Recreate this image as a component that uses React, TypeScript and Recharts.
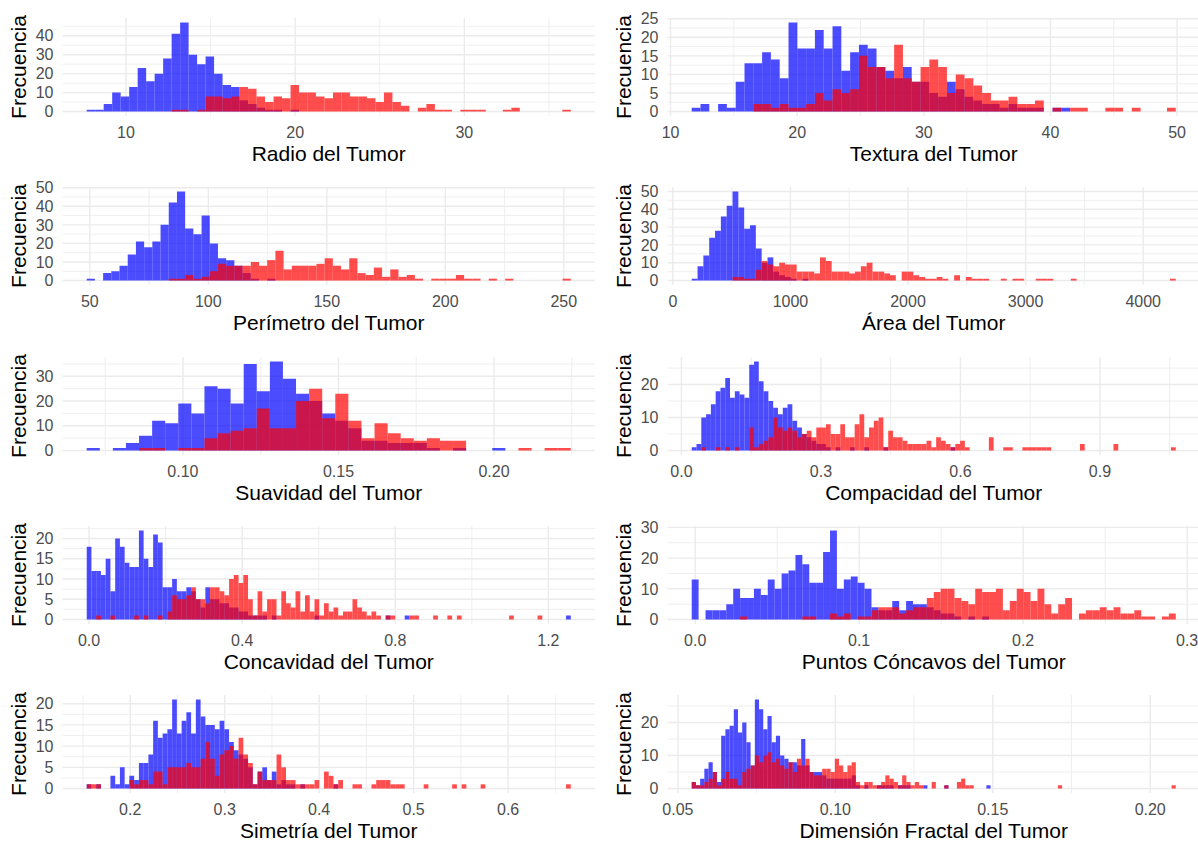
import React from 'react';
import { ComposedChart, Bar, XAxis, YAxis, CartesianGrid } from 'recharts';

// ---------- Radio ----------
const radioInicio = 7.93;
const radioAncho = 0.502;
const radioBenigno = [1,1,4,10,8,13,23,16,20,28, 41,47,30,25,29,20,14,13,6,4, 2,1,1,0,1,0,0,0,0,0, 0,0,0,0,0,0,0,0,0,0, 0,0,0,0,0,0,0,0,0,0, 0,0,0,0,0,0,0];
const radioMaligno = [0,0,0,0,0,0,0,0,0,0, 1,1,0,1,8,8,7,8,13,12, 8,5,8,7,14,10,10,8,7,10, 10,8,8,7,5,10,5,3,0,2, 4,1,1,0,1,1,1,0,0,1, 2,0,0,0,0,0,1];
const radioTicks = [10, 20, 30];
const radioMenores = [15, 25, 35];

// ---------- Textura ----------
const texturaInicio = 12.02;
const texturaAncho = 0.695;
const texturaBenigno = [1,2,0,2,1,8,13,13,16,14, 9,24,17,17,22,17,23,11,16,18, 17,12,11,9,12,8,8,5,4,8, 6,4,3,2,2,1,2,1,1,1, 0,1,1,0,0,0,0,0,0,0, 0,0,0,0,0];
const texturaMaligno = [0,0,0,0,0,0,0,2,2,1, 2,1,1,2,5,3,6,5,6,15, 12,12,9,18,9,8,12,14,12,5, 10,9,7,5,3,3,4,2,2,3, 0,1,0,1,1,0,0,1,1,0, 1,0,0,0,1];
const texturaTicks = [10, 20, 30, 40, 50];
const texturaMenores = [15, 25, 35, 45];

// ---------- Perimetro ----------
const perimetroInicio = 50.41;
const perimetroAncho = 3.462;
const perimetroBenigno = [1,0,4,5,8,14,21,18,21,30, 42,48,28,25,35,20,12,11,8,4, 1,0,1,0,0,0,0,0,0,0, 0,0,0,0,0,0,0,0,0,0, 0,0,0,0,0,0,0,0,0,0, 0,0,0,0,0,0,0,0,0];
const perimetroMaligno = [0,0,0,0,0,0,0,0,0,0, 1,1,3,1,2,5,9,8,8,8, 10,8,11,16,6,8,8,8,9,12, 8,6,12,4,3,7,2,6,2,3, 1,0,1,1,1,3,1,1,0,1, 0,1,0,0,0,0,0,0,1];
const perimetroTicks = [50, 100, 150, 200, 250];
const perimetroMenores = [75, 125, 175, 225];

// ---------- Area ----------
const areaInicio = 185.2;
const areaAncho = 49.6;
const areaBenigno = [1,8,14,24,28,36,42,50,41,29, 31,18,10,13,5,3,2,1,0,1, 0,0,0,0,0,0,0,0,0,0, 0,0,0,0,0,0,0,0,0,0, 0,0,0,0,0,0,0,0,0,0, 0,0,0,0,0,0,0,0,0,0, 0,0,0,0,0,0,0,0,0,0, 0,0,0,0,0,0,0,0,0,0, 0,0,0];
const areaMaligno = [0,0,0,0,0,0,0,2,2,1, 1,6,11,9,8,10,9,9,5,5, 5,4,13,11,5,5,5,4,5,8, 10,5,5,4,3,0,5,5,3,2, 1,1,2,1,0,3,0,2,1,1, 1,0,0,1,0,1,1,0,0,1, 1,1,0,0,0,1,0,0,0,0, 0,0,0,0,0,0,0,0,0,0, 0,0,1];
const areaTicks = [0, 1000, 2000, 3000, 4000];
const areaMenores = [500, 1500, 2500, 3500];

// ---------- Suavidad ----------
const suavidadInicio = 0.07117;
const suavidadAncho = 0.004206;
const suavidadBenigno = [1,0,1,3,6,12,11,19,15,26, 25,19,35,24,36,29,23,20,15,12, 9,4,4,3,3,3,1,0,1,0, 0,1,0,0,0,0,0];
const suavidadMaligno = [0,0,0,0,1,1,0,1,1,5, 7,8,9,17,9,9,20,25,13,23, 12,5,11,7,5,4,5,4,4,0, 0,0,0,1,0,1,1];
const suavidadTicks = [0.1, 0.15, 0.2];
const suavidadMenores = [0.075, 0.125, 0.175, 0.225];

// ---------- Compacidad ----------
const compacidadInicio = 0.02729;
const compacidadAncho = 0.010307;
const compacidadBenigno = [
  1,2,10,11,14,18,19,22,16,18, 17,16,26,27,21,18,15,13,11,13,
  14,9,7,5,4,3,2,2,1,0, 1,0,0,1,0,0,1,0,0,0,
  1,0,0,0,0,0,0,0,0,0, 0,0,0,0,1,0,0,0,0,0,
  0,0,0,0,0,0,0,0,0,0, 0,0,0,0,0,0,0,0,0,0,
  0,0,0,0,0,0,0,0,0,0, 0,0,0,0,0,0,0,0,0,0,
  0];
const compacidadMaligno = [
  0,0,1,0,0,1,0,1,0,1, 0,0,7,1,2,3,4,10,7,6,
  7,6,4,5,6,4,7,7,8,5, 5,8,4,4,8,11,4,7,9,10,
  1,6,4,4,3,2,2,2,2,3, 1,4,3,2,1,2,3,1,0,0,
  0,0,4,0,0,1,1,0,0,1, 1,1,1,1,1,0,0,0,0,0,
  0,2,0,0,0,0,0,0,2,0, 0,0,0,0,0,0,0,0,0,0,
  1];
const compacidadTicks = [0, 0.3, 0.6, 0.9];
const compacidadMenores = [0.15, 0.45, 0.75, 1.05];

// ---------- Concavidad ----------
const concavidadInicio = 0;
const concavidadAncho = 0.0124;
const concavidadBenigno = [
  18,12,12,11,15,7,20,18,14,13, 13,22,15,13,21,19,8,8,10,7,
  7,8,7,5,3,8,5,5,4,4, 3,3,2,2,1,1,1,1,0,1,
  0,0,0,0,0,0,0,0,1,0, 0,0,0,0,0,0,0,0,0,0,
  0,0,0,1,0,0,0,1,0,0, 0,0,0,0,0,0,0,0,0,0,
  0,0,0,0,0,0,0,0,0,0, 0,0,0,0,0,0,0,0,0,0,
  0,1];
const concavidadMaligno = [
  0,0,1,0,0,1,0,0,0,0, 1,0,1,0,0,1,0,2,6,5,
  5,6,8,5,5,4,8,8,7,6, 10,11,9,11,5,1,7,2,5,5,
  1,7,4,3,7,2,6,2,5,1, 4,2,3,1,2,2,5,3,2,1,
  2,1,0,1,1,0,0,0,1,1, 0,0,0,1,0,0,1,0,1,0,
  0,0,0,0,0,0,0,0,0,1, 0,0,0,0,0,1,0,0,0,0,
  0,0];
const concavidadTicks = [0, 0.4, 0.8, 1.2];
const concavidadMenores = [0.2, 0.6, 1.0];

// ---------- Puntos concavos ----------
const puntosInicio = 0;
const puntosAncho = 0.004217;
const puntosBenigno = [
  13,0,3,3,3,5,10,7,7,10, 8,13,10,15,16,21,18,12,12,22,
  29,10,13,14,12,10,4,3,3,6, 3,6,5,5,4,3,2,2,1,0,
  1,0,1,0,0,0,0,0,0,0, 0,0,0,0,0,0,0,0,0,0,
  0,0,0,0,0,0,0,0,0,0];
const puntosMaligno = [
  0,0,0,0,0,0,0,1,0,0, 0,0,0,0,0,0,1,1,0,0,
  2,1,2,0,1,1,3,4,4,4, 2,3,4,4,7,9,10,10,7,6,
  5,10,9,9,10,3,6,10,9,6, 10,5,2,5,7,0,2,3,3,4,
  3,4,2,2,3,1,1,0,1,2];
const puntosTicks = [0, 0.1, 0.2, 0.3];
const puntosMenores = [0.05, 0.15, 0.25];

// ---------- Simetria ----------
const simetriaInicio = 0.1565;
const simetriaAncho = 0.005023;
const simetriaBenigno = [
  1,0,1,0,0,3,1,5,1,3, 2,6,6,8,16,12,13,14,21,13,
  16,18,13,21,17,15,15,14,16,14, 11,9,8,7,5,1,4,5,2,4,
  1,2,1,1,0,1,0,0,0,0, 0,0,1,0,0,0,0,0,0,0,
  0,0,0,0,0,0,0,0,0,0, 0,0,0,0,0,0,0,0,0,0,
  0,0,0,0,0,0,0,0,0,0, 0,0,0,0,0,0,0,0,0,0,
  0,0];
const simetriaMaligno = [
  1,1,1,0,0,0,0,0,0,2, 1,2,2,1,4,4,1,5,5,5,
  5,6,5,5,7,11,7,3,8,9, 10,7,12,8,6,1,4,2,2,2,
  8,5,2,2,1,1,1,1,2,0, 4,3,1,2,0,0,1,1,0,0,
  1,2,2,2,1,1,1,0,0,0, 0,1,0,0,0,0,0,1,0,1,
  0,0,0,1,0,0,0,0,0,0, 0,0,0,0,0,0,0,0,0,0,
  0,1];
const simetriaTicks = [0.2, 0.3, 0.4, 0.5, 0.6];
const simetriaMenores = [0.15, 0.25, 0.35, 0.45, 0.55, 0.65];

// ---------- Dimension fractal ----------
const fractalInicio = 0.05504;
const fractalAncho = 0.001337;
const fractalBenigno = [
  2,1,3,6,8,5,2,16,18,19, 24,17,20,14,7,27,24,18,22,14,
  16,10,9,8,8,7,15,7,5,5, 5,4,3,3,3,3,3,3,4,1,
  0,1,0,0,1,1,1,1,0,1, 1,1,0,0,0,1,0,0,0,0,
  1,0,0,0,0,0,0,0,0,0, 1,0,0,0,0,0,0,0,0,0,
  0,0,0,0,0,0,0,0,0,0, 0,0,0,0,0,0,0,0,0,0,
  0,0,0,0,0,0,0,0,0,0, 0,0,0,0,0];
const fractalMaligno = [
  2,1,1,2,3,5,1,3,5,3, 3,1,5,6,7,10,8,10,11,8,
  9,7,6,8,5,9,7,9,5,4, 4,6,6,5,9,7,5,7,8,2,
  1,2,2,1,1,2,4,3,2,1, 4,2,1,2,1,0,0,2,0,0,
  1,0,0,2,3,1,1,0,0,0, 0,0,0,0,0,0,0,0,0,0,
  0,0,0,0,0,0,0,1,0,0, 0,0,0,0,0,0,0,0,0,0,
  0,0,0,0,0,0,0,0,0,0, 0,0,0,0,1];
const fractalTicks = [0.05, 0.1, 0.15, 0.2];
const fractalMenores = [0.075, 0.125, 0.175];

const FONT = '"Liberation Sans", Arial, Helvetica, sans-serif';
const CHART_W = 600;
const CHART_H = 169;
const Y_W = 62.5;
const M_TOP = 18;
const M_RIGHT = 5;
const X_H = 53;
const COL_STEP = 605;
const ROW_STEP = 169.25;
const TITLE_SIZE = 21;
const TICK_SIZE = 16;

type Panel = {
  title: string;
  start: number;
  width: number;
  benign: number[];
  malignant: number[];
  xTicks: number[];
  xMinor: number[];
  digits: number;
  yTicks: number[];
  yMinor: number[];
};

const panels: Panel[] = [
  { title: 'Radio del Tumor', start: radioInicio, width: radioAncho, benign: radioBenigno, malignant: radioMaligno, xTicks: radioTicks, xMinor: radioMenores, digits: 0, yTicks: [0, 10, 20, 30, 40], yMinor: [5, 15, 25, 35, 45] },
  { title: 'Textura del Tumor', start: texturaInicio, width: texturaAncho, benign: texturaBenigno, malignant: texturaMaligno, xTicks: texturaTicks, xMinor: texturaMenores, digits: 0, yTicks: [0, 5, 10, 15, 20, 25], yMinor: [2.5, 7.5, 12.5, 17.5, 22.5] },
  { title: 'Perímetro del Tumor', start: perimetroInicio, width: perimetroAncho, benign: perimetroBenigno, malignant: perimetroMaligno, xTicks: perimetroTicks, xMinor: perimetroMenores, digits: 0, yTicks: [0, 10, 20, 30, 40, 50], yMinor: [5, 15, 25, 35, 45] },
  { title: 'Área del Tumor', start: areaInicio, width: areaAncho, benign: areaBenigno, malignant: areaMaligno, xTicks: areaTicks, xMinor: areaMenores, digits: 0, yTicks: [0, 10, 20, 30, 40, 50], yMinor: [5, 15, 25, 35, 45] },
  { title: 'Suavidad del Tumor', start: suavidadInicio, width: suavidadAncho, benign: suavidadBenigno, malignant: suavidadMaligno, xTicks: suavidadTicks, xMinor: suavidadMenores, digits: 2, yTicks: [0, 10, 20, 30], yMinor: [5, 15, 25, 35] },
  { title: 'Compacidad del Tumor', start: compacidadInicio, width: compacidadAncho, benign: compacidadBenigno, malignant: compacidadMaligno, xTicks: compacidadTicks, xMinor: compacidadMenores, digits: 1, yTicks: [0, 10, 20], yMinor: [5, 15, 25] },
  { title: 'Concavidad del Tumor', start: concavidadInicio, width: concavidadAncho, benign: concavidadBenigno, malignant: concavidadMaligno, xTicks: concavidadTicks, xMinor: concavidadMenores, digits: 1, yTicks: [0, 5, 10, 15, 20], yMinor: [2.5, 7.5, 12.5, 17.5, 22.5] },
  { title: 'Puntos Cóncavos del Tumor', start: puntosInicio, width: puntosAncho, benign: puntosBenigno, malignant: puntosMaligno, xTicks: puntosTicks, xMinor: puntosMenores, digits: 1, yTicks: [0, 10, 20, 30], yMinor: [5, 15, 25] },
  { title: 'Simetría del Tumor', start: simetriaInicio, width: simetriaAncho, benign: simetriaBenigno, malignant: simetriaMaligno, xTicks: simetriaTicks, xMinor: simetriaMenores, digits: 1, yTicks: [0, 5, 10, 15, 20], yMinor: [2.5, 7.5, 12.5, 17.5] },
  { title: 'Dimensión Fractal del Tumor', start: fractalInicio, width: fractalAncho, benign: fractalBenigno, malignant: fractalMaligno, xTicks: fractalTicks, xMinor: fractalMenores, digits: 2, yTicks: [0, 10, 20], yMinor: [5, 15, 25] },
];

function Histogram({ cfg }: { cfg: Panel }) {
  const n = cfg.benign.length;
  const rows = cfg.benign.map((b, i) => ({ x: cfg.start + i * cfg.width, b, m: cfg.malignant[i] ?? 0 }));
  const b0 = cfg.start - cfg.width / 2;
  const b1 = cfg.start + (n - 1) * cfg.width + cfg.width / 2;
  const range = b1 - b0;
  const xDomain: [number, number] = [b0 - 0.05 * range, b1 + 0.05 * range];
  const maxY = Math.max(...cfg.benign, ...cfg.malignant);
  const yDomain: [number, number] = [-0.05 * maxY, 1.05 * maxY];
  const plotW = CHART_W - Y_W - M_RIGHT;
  const barPx = (cfg.width / (xDomain[1] - xDomain[0])) * plotW - 0.02;
  const tickStyle = { fill: '#4D4D4D', fontSize: TICK_SIZE, fontFamily: FONT };

  return (
    <ComposedChart width={CHART_W} height={CHART_H} data={rows} margin={{ top: M_TOP, right: M_RIGHT, bottom: 0, left: 0 }}>
      <CartesianGrid xAxisId="b" stroke="#EBEBEB" strokeWidth={0.8} horizontalValues={cfg.yMinor} verticalValues={cfg.xMinor} />
      <CartesianGrid xAxisId="b" stroke="#EBEBEB" strokeWidth={1.4} horizontalValues={cfg.yTicks} verticalValues={cfg.xTicks} />
      <XAxis
        xAxisId="b"
        type="number"
        dataKey="x"
        domain={xDomain}
        allowDataOverflow
        ticks={cfg.xTicks}
        interval={0}
        height={X_H}
        axisLine={false}
        tickLine={false}
        tickSize={0}
        tickMargin={11}
        tick={tickStyle}
        tickFormatter={(v: number) => v.toFixed(cfg.digits)}
        label={{
          content: (p: any) => {
            const vb = p.viewBox || {};
            return (
              <text x={vb.x + vb.width / 2} y={vb.y + 45} textAnchor="middle" fontSize={TITLE_SIZE} fontFamily={FONT} fill="#000000">
                {cfg.title}
              </text>
            );
          },
        }}
      />
      <XAxis xAxisId="m" type="number" dataKey="x" domain={xDomain} allowDataOverflow hide />
      <YAxis
        type="number"
        domain={yDomain}
        allowDataOverflow
        ticks={cfg.yTicks}
        interval={0}
        width={Y_W}
        axisLine={false}
        tickLine={false}
        tickSize={0}
        tickMargin={9}
        tick={tickStyle}
        label={{
          content: (p: any) => {
            const vb = p.viewBox || {};
            const cx = vb.x + 18.5;
            const cy = vb.y + vb.height / 2;
            return (
              <text x={cx} y={cy} transform={`rotate(-90 ${cx} ${cy})`} textAnchor="middle" dominantBaseline="central" fontSize={TITLE_SIZE} fontFamily={FONT} fill="#000000">
                Frecuencia
              </text>
            );
          },
        }}
      />
      <Bar xAxisId="b" dataKey="b" fill="#0000FF" fillOpacity={0.7} barSize={barPx} isAnimationActive={false} />
      <Bar xAxisId="m" dataKey="m" fill="#FF0000" fillOpacity={0.7} barSize={barPx} isAnimationActive={false} />
    </ComposedChart>
  );
}

export default function App() {
  return (
    <div style={{ position: 'absolute', left: 0, top: 0, width: 1198, height: 843, overflow: 'hidden', background: '#FFFFFF' }}>
      {panels.map((cfg, i) => (
        <div key={cfg.title} style={{ position: 'absolute', left: (i % 2) * COL_STEP, top: Math.floor(i / 2) * ROW_STEP }}>
          <Histogram cfg={cfg} />
        </div>
      ))}
    </div>
  );
}
